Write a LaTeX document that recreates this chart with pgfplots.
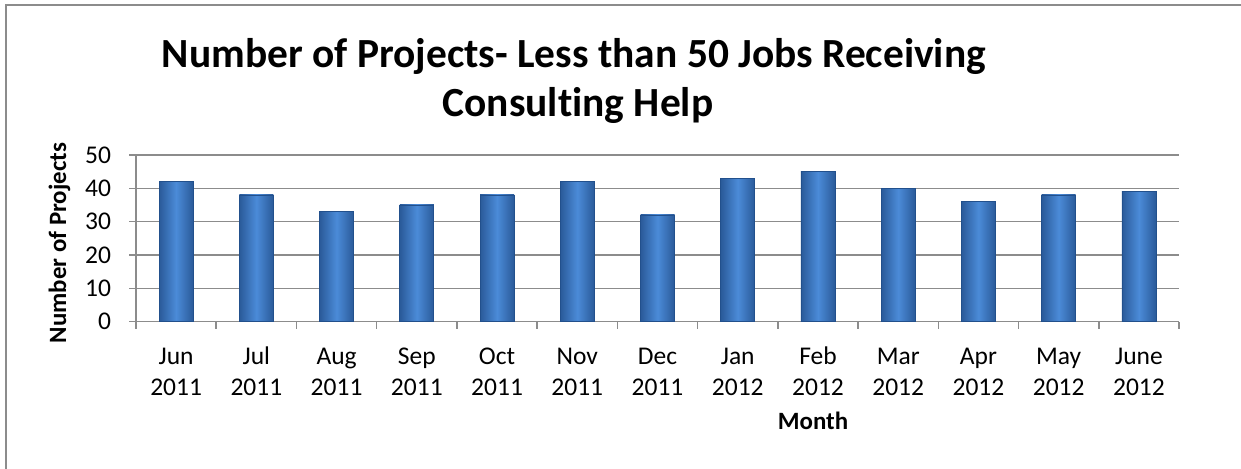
\documentclass[border=0pt]{standalone}
\usepackage{pgfplots}
\usepackage{pgfplotstable}
\pgfplotsset{compat=1.18}
\usepackage{fontspec}
\setmainfont{Carlito}[Ligatures=NoCommon]
\definecolor{barDark}{HTML}{2A5A99}
\definecolor{barLight}{HTML}{4B8BD8}
\definecolor{barEdge}{HTML}{22508C}
\definecolor{gridGray}{HTML}{8C8C8C}
\newcommand{\ml}[2]{\begin{tabular}{@{}c@{}}#1\\#2\end{tabular}}
% projects per month, Jun 2011 .. June 2012
\pgfplotstableread{
idx val
0 42
1 38
2 33
3 35
4 38
5 42
6 32
7 43
8 45
9 40
10 36
11 38
12 39
}\projects
\begin{document}
\begin{tikzpicture}[x=0.5bp,y=0.5bp]
\useasboundingbox (0,0) rectangle (1241,469);
\draw[gridGray, line width=1bp] (6,0) -- (6,464) -- (1241,464);
\begin{axis}[
  at={(68bp,73.65bp)}, anchor=south west,
  scale only axis, width=521.5bp, height=83.35bp,
  xmin=-0.5, xmax=12.5, ymin=0, ymax=50,
  axis lines=left, axis line style={-, gridGray, line width=0.75bp},
  ytick={0,10,...,50}, ymajorgrids,
  grid style={gridGray, line width=0.75bp},
  xtick={0,...,12},
  xticklabels={\ml{Jun}{2011},\ml{Jul}{2011},\ml{Aug}{2011},\ml{Sep}{2011},\ml{Oct}{2011},\ml{Nov}{2011},\ml{Dec}{2011},\ml{Jan}{2012},\ml{Feb}{2012},\ml{Mar}{2012},\ml{Apr}{2012},\ml{May}{2012},\ml{June}{2012}},
  minor xtick={-0.5,0.5,...,12.5},
  major x tick style={draw=none},
  tick align=outside, major tick length=3.5bp, minor tick length=3.5bp,
  tick style={gridGray, line width=0.75bp},
  /pgf/number format/assume math mode=true,
  ticklabel style={font=\fontsize{12.8}{16}\selectfont},
  xticklabel style={anchor=north, yshift=-3bp},
  yticklabel style={xshift=-5.5bp},
  clip=false,
]
\pgfplotsinvokeforeach{0,...,12}{
  \addplot[ybar, bar width=17bp, bar shift=0pt, draw=barEdge, line width=0.4bp,
    left color=barDark, right color=barDark, middle color=barLight,
    restrict x to domain=#1:#1]
    table[x=idx, y=val] {\projects};
}
\end{axis}
\node[anchor=base, font=\fontsize{20.8}{24}\selectfont\bfseries] at (574,401) {Number of Projects- Less than 50 Jobs Receiving};
\node[anchor=base, font=\fontsize{20.8}{24}\selectfont\bfseries] at (578,352) {Consulting Help};
\node[anchor=base, font=\fontsize{12.5}{16}\selectfont\bfseries] at (813,39) {Month};
\node[anchor=base, rotate=90, font=\fontsize{12.5}{16}\selectfont\bfseries] at (66,226) {Number of Projects};
\end{tikzpicture}
\end{document}
